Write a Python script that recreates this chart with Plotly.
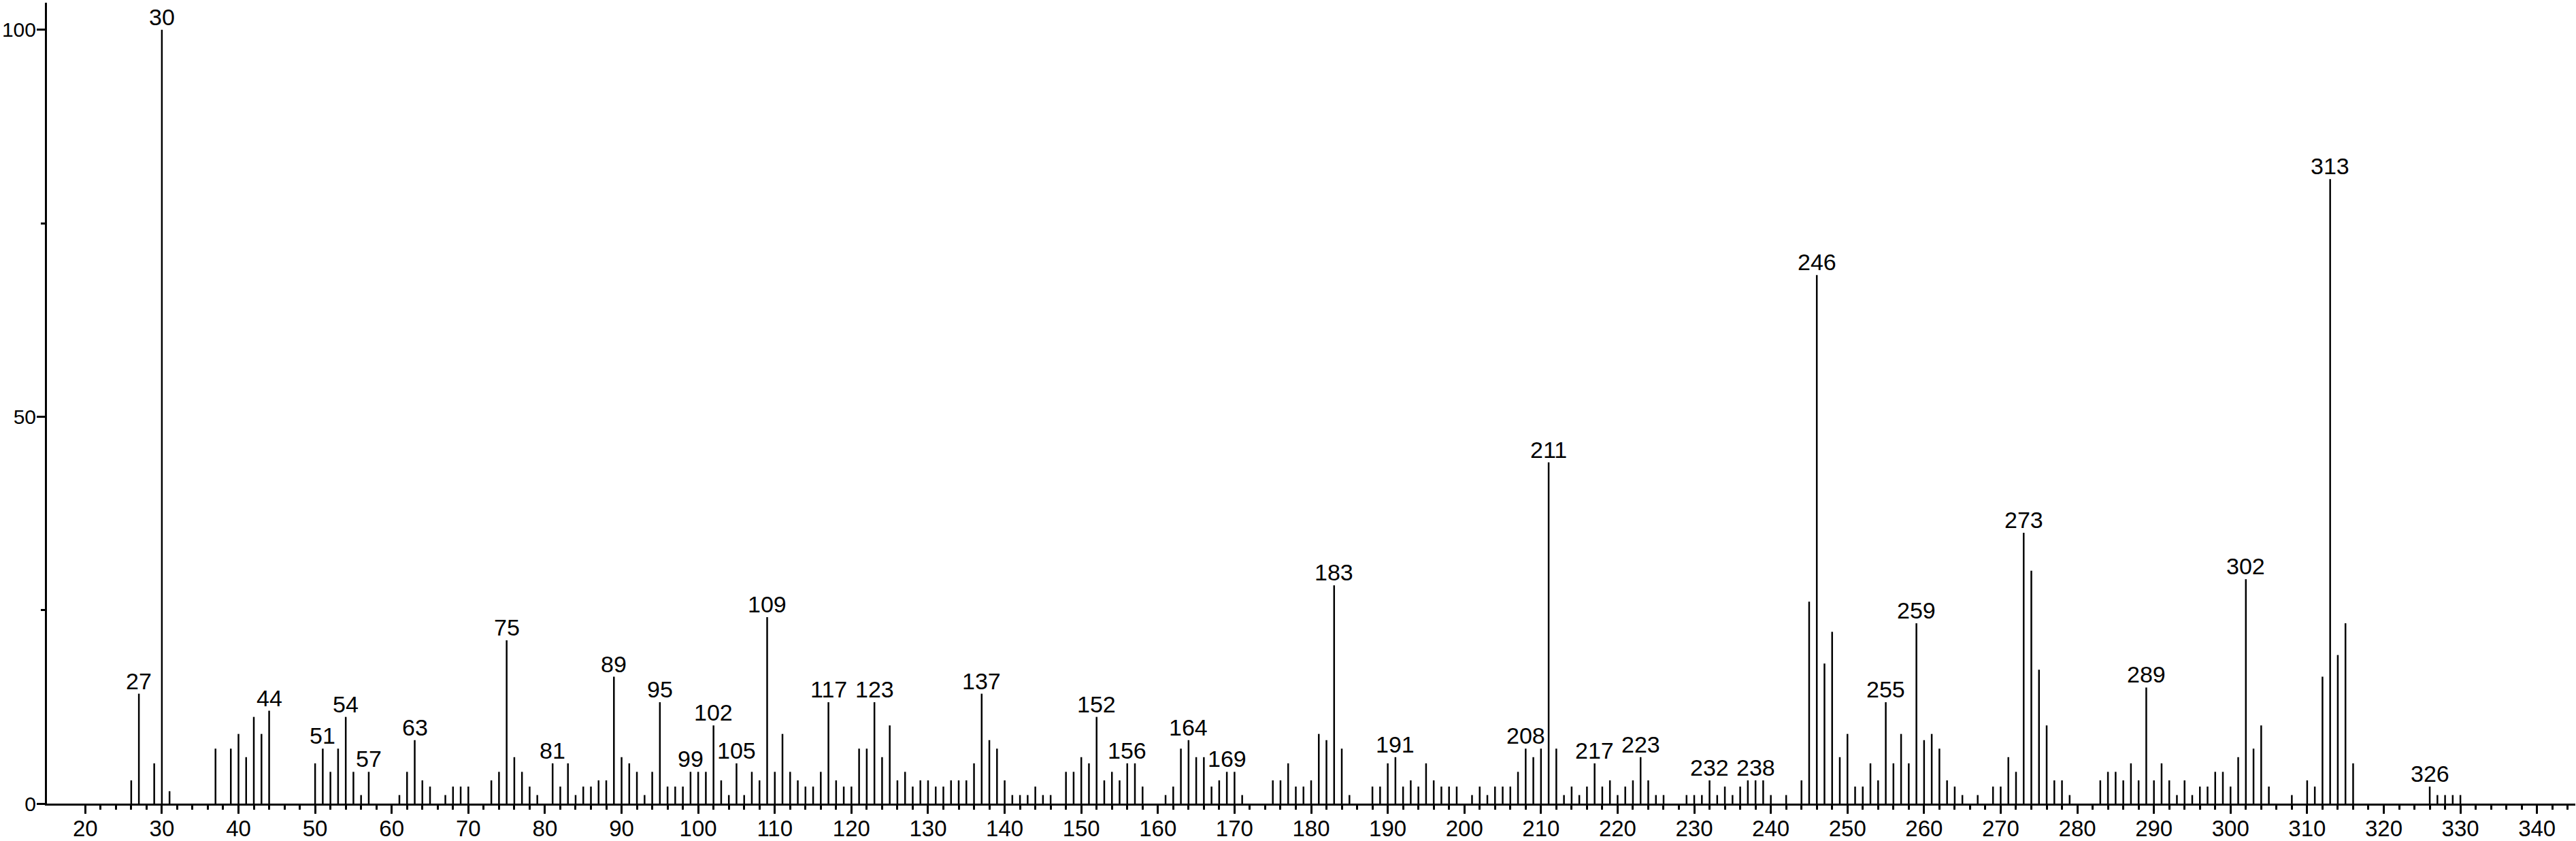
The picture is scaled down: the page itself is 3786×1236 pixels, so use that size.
import plotly.graph_objects as go

# m/z values and relative intensities (%)
mz = [26, 27, 29, 30, 31, 37, 39, 40, 41, 42, 43, 44,
      50, 51, 52, 53, 54, 55, 56, 57, 61, 62, 63, 64, 65, 67, 68, 69, 70,
      73, 74, 75, 76, 77, 78, 79, 81, 82, 83, 84, 85, 86, 87, 88, 89, 90,
      91, 92, 93, 94, 95, 96, 97, 98, 99, 100, 101, 102, 103, 104, 105, 106,
      107, 108, 109, 110, 111, 112, 113, 114, 115, 116, 117, 118, 119, 120,
      121, 122, 123, 124, 125, 126, 127, 128, 129, 130, 131, 132, 133, 134,
      135, 136, 137, 138, 139, 140, 141, 142, 143, 144, 145, 146, 148, 149,
      150, 151, 152, 153, 154, 155, 156, 157, 158, 161, 162, 163, 164, 165,
      166, 167, 168, 169, 170, 171, 175, 176, 177, 178, 179, 180, 181, 182,
      183, 184, 185, 188, 189, 190, 191, 192, 193, 194, 195, 196, 197, 198,
      199, 201, 202, 203, 204, 205, 206, 207, 208, 209, 210, 211, 212, 213,
      214, 215, 216, 217, 218, 219, 220, 221, 222, 223, 224, 225, 226, 229,
      230, 231, 232, 233, 234, 235, 236, 237, 238, 239, 240, 242, 244, 245,
      246, 247, 248, 249, 250, 251, 252, 253, 254, 255, 256, 257, 258, 259,
      260, 261, 262, 263, 264, 265, 267, 269, 270, 271, 272, 273, 274, 275,
      276, 277, 278, 279, 283, 284, 285, 286, 287, 288, 289, 290, 291, 292,
      293, 294, 295, 296, 297, 298, 299, 300, 301, 302, 303, 304, 305, 308,
      310, 311, 312, 313, 314, 315, 316, 326, 327, 328, 329, 330]

intensity = [3.0, 14.2, 5.2, 100, 1.6, 7.1, 7.1, 9.0, 6.0, 11.2, 9.0, 12.0,
             5.2, 7.1, 4.1, 7.1, 11.2, 4.1, 1.1, 4.1, 1.1, 4.1, 8.2, 3.0, 2.2, 1.1, 2.2, 2.2, 2.2,
             3.0, 4.1, 21.1, 6.0, 4.1, 2.2, 1.1, 5.2, 2.2, 5.2, 1.1, 2.2, 2.2, 3.0, 3.0, 16.4, 6.0,
             5.2, 4.1, 1.1, 4.1, 13.1, 2.2, 2.2, 2.2, 4.1, 4.1, 4.1, 10.1, 3.0, 1.1, 5.2, 1.1,
             4.1, 3.0, 24.1, 4.1, 9.0, 4.1, 3.0, 2.2, 2.2, 4.1, 13.1, 3.0, 2.2, 2.2,
             7.1, 7.1, 13.1, 6.0, 10.1, 3.0, 4.1, 2.2, 3.0, 3.0, 2.2, 2.2, 3.0, 3.0,
             3.0, 5.2, 14.2, 8.2, 7.1, 3.0, 1.1, 1.1, 1.1, 2.2, 1.1, 1.1, 4.1, 4.1,
             6.0, 5.2, 11.2, 3.0, 4.1, 3.0, 5.2, 5.2, 2.2, 1.1, 2.2, 7.1, 8.2, 6.0,
             6.0, 2.2, 3.0, 4.1, 4.1, 1.1, 3.0, 3.0, 5.2, 2.2, 2.2, 3.0, 9.0, 8.2,
             28.2, 7.1, 1.1, 2.2, 2.2, 5.2, 6.0, 2.2, 3.0, 2.2, 5.2, 3.0, 2.2, 2.2,
             2.2, 1.1, 2.2, 1.1, 2.2, 2.2, 2.2, 4.1, 7.1, 6.0, 7.1, 44.1, 7.1, 1.1,
             2.2, 1.1, 2.2, 5.2, 2.2, 3.0, 1.1, 2.2, 3.0, 6.0, 3.0, 1.1, 1.1, 1.1,
             1.1, 1.1, 3.0, 1.1, 2.2, 1.1, 2.2, 3.0, 3.0, 3.0, 1.1, 1.1, 3.0, 26.1,
             68.3, 18.1, 22.2, 6.0, 9.0, 2.2, 2.2, 5.2, 3.0, 13.1, 5.2, 9.0, 5.2, 23.3,
             8.2, 9.0, 7.1, 3.0, 2.2, 1.1, 1.1, 2.2, 2.2, 6.0, 4.1, 35.0, 30.1, 17.3,
             10.1, 3.0, 3.0, 1.1, 3.0, 4.1, 4.1, 3.0, 5.2, 3.0, 15.0, 3.0, 5.2, 3.0,
             1.1, 3.0, 1.1, 2.2, 2.2, 4.1, 4.1, 2.2, 6.0, 29.0, 7.1, 10.1, 2.2, 1.1,
             3.0, 2.2, 16.4, 80.7, 19.2, 23.3, 5.2, 2.2, 1.1, 1.1, 1.1, 1.1]

labeled_mz = [27, 30, 44, 51, 54, 57, 63, 75, 81, 89, 95, 99, 102, 105, 109,
              117, 123, 137, 152, 156, 164, 169, 183, 191, 208, 211, 217, 223,
              232, 238, 246, 255, 259, 273, 289, 302, 313, 326]

x_tick_labels = [str(v) for v in range(20, 341, 10)]
y_tick_labels = ["0", "50", "100"]

FONT = "Arial, Liberation Sans, Helvetica, sans-serif"
FS = 34

# stick spectrum: vertical segments from baseline to intensity
xs, ys = [], []
for m, v in zip(mz, intensity):
    xs += [m, m, None]
    ys += [0, v, None]

fig = go.Figure()
fig.add_trace(go.Scatter(x=xs, y=ys, mode="lines",
                         line=dict(color="black", width=2.5),
                         hoverinfo="skip", showlegend=False))

lookup = dict(zip(mz, intensity))
for m in labeled_mz:
    fig.add_annotation(x=m, y=lookup[m], text=str(m), showarrow=False,
                       xanchor="center", yanchor="bottom", yshift=-2,
                       font=dict(family=FONT, size=FS, color="black"))

fig.update_layout(
    width=3786, height=1236,
    margin=dict(l=69, r=1, t=4, b=55, autoexpand=False),
    paper_bgcolor="white", plot_bgcolor="white",
    font=dict(family=FONT, size=FS, color="black"),
    showlegend=False,
)
fig.update_xaxes(
    range=[15, 345], showgrid=False, zeroline=False, automargin=False,
    showline=True, linecolor="black", linewidth=3,
    tickmode="array", tickvals=[int(t) for t in x_tick_labels], ticktext=x_tick_labels,
    ticks="outside", ticklen=12, tickwidth=3, tickcolor="black",
    minor=dict(tickmode="array", tickvals=list(range(22, 345, 2)), ticks="outside",
               ticklen=6, tickwidth=3, tickcolor="black"),
    tickfont=dict(family=FONT, size=33, color="black"),
    ticklabelstandoff=-7,
)
fig.update_yaxes(
    range=[0, 103.5], showgrid=False, zeroline=False, automargin=False,
    showline=True, linecolor="black", linewidth=3,
    tickmode="array", tickvals=[int(t) for t in y_tick_labels], ticktext=y_tick_labels,
    ticks="outside", ticklen=12, tickwidth=3, tickcolor="black",
    minor=dict(tickmode="array", tickvals=[25, 75], ticks="outside",
               ticklen=6, tickwidth=3, tickcolor="black"),
    tickfont=dict(family=FONT, size=30, color="black"),
    ticklabelstandoff=-5,
)

fig.write_html("out.html", config={"displayModeBar": False},
               post_script="document.body.style.margin='0';document.body.style.overflow='hidden';")
